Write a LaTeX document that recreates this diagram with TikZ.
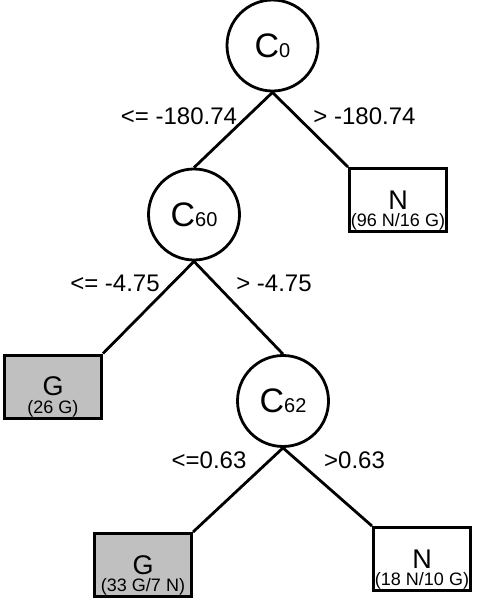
\documentclass[tikz,border=0pt]{standalone}
\usepackage{fontspec}
\setmainfont{Liberation Sans}
\usetikzlibrary{positioning}
\definecolor{leafgray}{RGB}{192,192,192}
\tikzset{
  split/.style={circle,draw,line width=1.4pt,minimum size=45.5pt,inner sep=0pt},
  leaf/.style={rectangle,draw,line width=1.5pt,minimum width=48.5pt,
    minimum height=31.5pt,inner sep=0pt,font=\fontsize{13.5}{15}\selectfont},
  count/.style={font=\fontsize{9}{10}\selectfont,inner sep=0pt,
    anchor=south,yshift=1pt},
  cond/.style={font=\fontsize{12}{14}\selectfont,inner sep=0pt},
  branch/.style={line width=1.4pt}
}
\newcommand{\attr}[1]{{\fontsize{17}{19}\selectfont C}{\fontsize{10}{11}\selectfont #1}}

\begin{document}
\begin{tikzpicture}[x=0.5pt,y=-0.5pt]
  \useasboundingbox (0,0) rectangle (477,600);
  %
  % Splits
  \node[split] (c0) at (272.5,45.5) {\attr{0}};
  \node[split] (c60) at (194,214.5) {\attr{60}};
  \node[split] (c62) at (283,401) {\attr{62}};
  %
  % Leaves
  \node[leaf,label={[count]south:(96 N/16 G)}] (n1) at (398,200) {N};
  \node[leaf,fill=leafgray,label={[count]south:(26 G)}] (g1) at (53,386.5) {G};
  \node[leaf,fill=leafgray,label={[count]south:(33 G/7 N)}] (g2) at (143,565) {G};
  \node[leaf,label={[count]south:(18 N/10 G)}] (n2) at (422,559) {N};
  %
  % Branches
  \draw[branch] (c0.south) -- (c60.north);
  \draw[branch] (c0.south) -- (n1.north west);
  \draw[branch] (c60.south) -- (g1.north east);
  \draw[branch] (c60.south) -- (c62.north);
  \draw[branch] (c62.south) -- (g2.north east);
  \draw[branch] (c62.south) -- (n2.north west);
  %
  % Conditions
  \node[cond] (t1) at (179,116) {<= -180.74};
  \node[cond] (t2) at (364.5,116) {> -180.74};
  \node[cond] (t3) at (115,283) {<= -4.75};
  \node[cond] (t4) at (274,283) {> -4.75};
  \node[cond] (t5) at (209,460) {<=0.63};
  \node[cond] (t6) at (354.5,460) {>0.63};
  %
\end{tikzpicture}
\end{document}
